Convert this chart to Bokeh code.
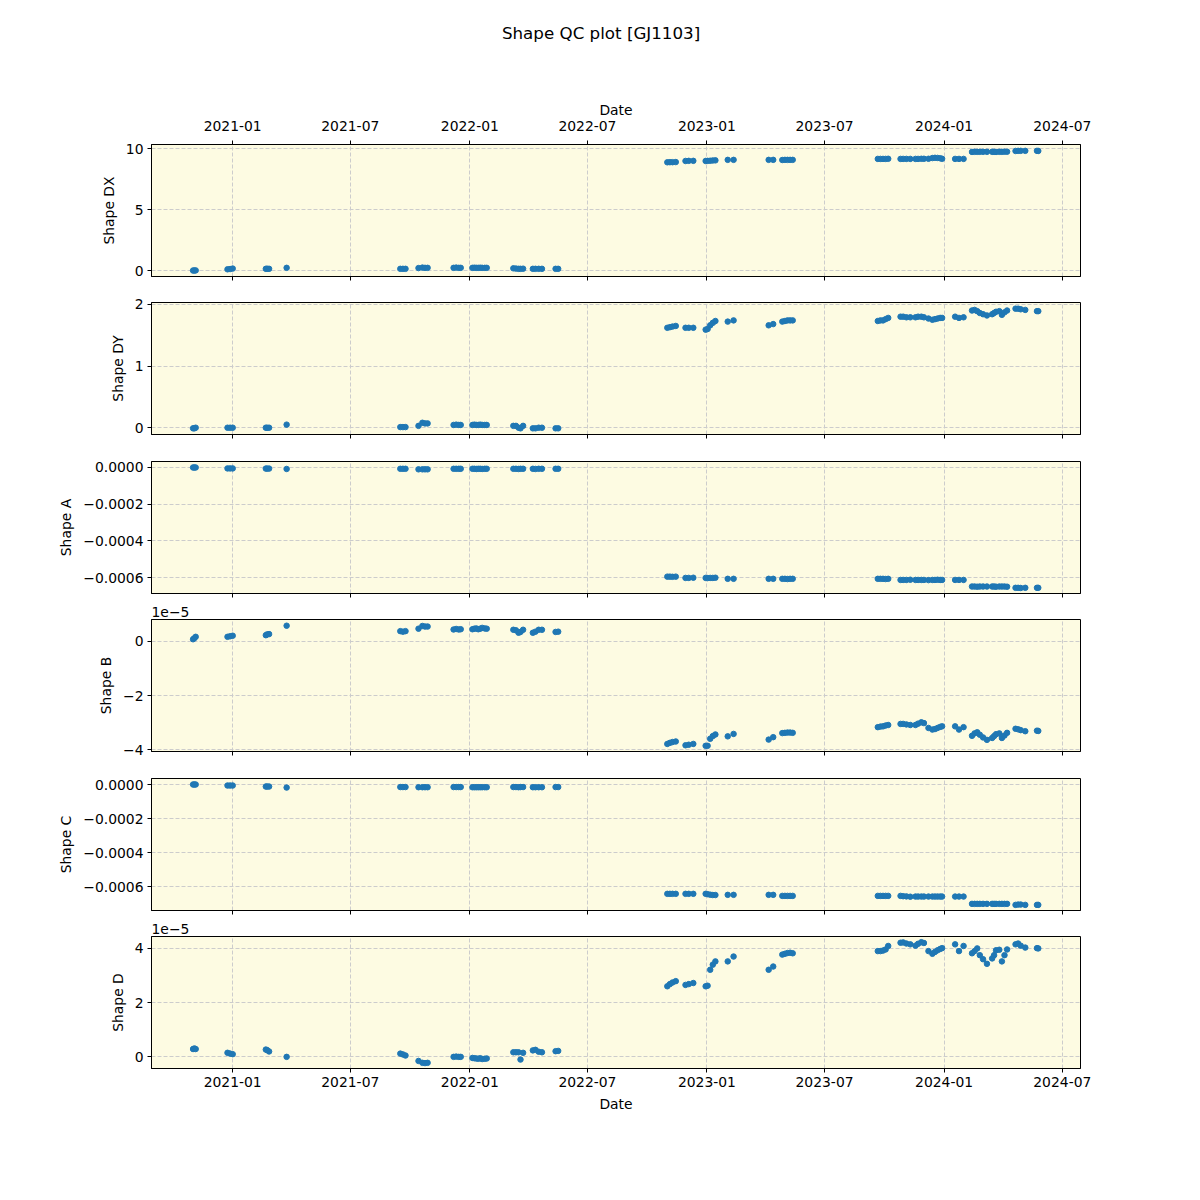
import pandas as pd
from bokeh.plotting import figure
from bokeh.layouts import column
from bokeh.models import (Range1d, FixedTicker, CustomJSTickFormatter, DatetimeAxis,
                          ColumnDataSource)
from bokeh.core.properties import value
from bokeh.embed import file_html
from bokeh.resources import INLINE

# ---------------- data ----------------
dates = [
    "2020-11-01", "2020-11-03", "2020-11-05",
    "2020-12-24", "2020-12-28", "2021-01-01",
    "2021-02-21", "2021-02-23", "2021-02-26",
    "2021-03-25",
    "2021-09-16", "2021-09-20", "2021-09-24",
    "2021-10-14", "2021-10-20", "2021-10-24", "2021-10-28",
    "2021-12-07", "2021-12-11", "2021-12-15", "2021-12-18",
    "2022-01-05", "2022-01-08", "2022-01-11", "2022-01-14", "2022-01-17", "2022-01-20", "2022-01-24", "2022-01-27",
    "2022-03-09", "2022-03-13", "2022-03-17", "2022-03-20", "2022-03-24",
    "2022-04-08", "2022-04-12", "2022-04-17", "2022-04-22",
    "2022-05-13", "2022-05-17",
    "2022-11-01", "2022-11-05", "2022-11-09", "2022-11-14",
    "2022-11-29", "2022-12-04", "2022-12-11",
    "2022-12-30", "2023-01-02", "2023-01-06", "2023-01-10", "2023-01-14",
    "2023-02-02", "2023-02-11",
    "2023-04-06", "2023-04-13",
    "2023-04-27", "2023-05-01", "2023-05-05", "2023-05-09", "2023-05-13",
    "2023-09-21", "2023-09-25", "2023-09-29", "2023-10-03", "2023-10-07",
    "2023-10-26", "2023-10-30", "2023-11-04", "2023-11-10",
    "2023-11-18", "2023-11-22", "2023-11-27", "2023-12-01", "2023-12-08",
    "2023-12-14", "2023-12-18", "2023-12-22", "2023-12-26", "2023-12-29",
    "2024-01-18", "2024-01-24", "2024-01-31",
    "2024-02-13", "2024-02-17", "2024-02-21", "2024-02-25", "2024-03-01", "2024-03-07",
    "2024-03-15", "2024-03-18", "2024-03-21", "2024-03-26", "2024-03-30", "2024-04-03", "2024-04-07",
    "2024-04-20", "2024-04-24", "2024-04-28", "2024-05-05",
    "2024-05-23", "2024-05-25",
]

shape_dx = [
    0.00, 0.00, 0.01,
    0.10, 0.12, 0.16,
    0.14, 0.15, 0.14,
    0.22,
    0.14, 0.14, 0.14,
    0.20, 0.24, 0.22, 0.22,
    0.22, 0.24, 0.22, 0.22,
    0.22, 0.23, 0.22, 0.22, 0.23, 0.22, 0.22, 0.22,
    0.18, 0.16, 0.14, 0.14, 0.15,
    0.14, 0.14, 0.14, 0.14,
    0.14, 0.14,
    8.87, 8.88, 8.88, 8.89,
    8.98, 8.99, 8.99,
    8.98, 8.99, 9.00, 9.02, 9.03,
    9.07, 9.07,
    9.07, 9.07,
    9.06, 9.07, 9.07, 9.07, 9.07,
    9.15, 9.15, 9.15, 9.15, 9.16,
    9.15, 9.15, 9.15, 9.15,
    9.15, 9.15, 9.16, 9.16, 9.16,
    9.22, 9.24, 9.23, 9.20, 9.16,
    9.15, 9.15, 9.15,
    9.72, 9.73, 9.73, 9.73, 9.73, 9.73,
    9.73, 9.73, 9.72, 9.73, 9.73, 9.74, 9.74,
    9.80, 9.81, 9.81, 9.81,
    9.81, 9.80,
]

shape_dy = [
    -0.01, -0.01, 0.00,
    0.00, 0.00, 0.00,
    0.00, 0.00, 0.00,
    0.05,
    0.01, 0.01, 0.01,
    0.03, 0.08, 0.07, 0.07,
    0.045, 0.05, 0.045, 0.045,
    0.045, 0.05, 0.045, 0.045, 0.05, 0.045, 0.045, 0.045,
    0.03, 0.03, 0.00, -0.01, 0.03,
    -0.01, -0.01, 0.00, 0.00,
    -0.01, -0.01,
    1.62, 1.63, 1.64, 1.65,
    1.62, 1.62, 1.62,
    1.59, 1.60, 1.66, 1.70, 1.73,
    1.72, 1.74,
    1.66, 1.68,
    1.72, 1.73, 1.74, 1.74, 1.74,
    1.73, 1.74, 1.74, 1.76, 1.78,
    1.80, 1.80, 1.79, 1.79,
    1.79, 1.80, 1.80, 1.79, 1.77,
    1.75, 1.76, 1.77, 1.78, 1.78,
    1.80, 1.78, 1.79,
    1.90, 1.91, 1.89, 1.86, 1.84, 1.82,
    1.84, 1.86, 1.88, 1.89, 1.83, 1.87, 1.90,
    1.93, 1.93, 1.92, 1.91,
    1.89, 1.89,
]

shape_a = [
    0.0, 0.0, 0.0,
    -0.000005, -0.000005, -0.000005,
    -0.000006, -0.000006, -0.000006,
    -0.000008,
    -0.000007, -0.000007, -0.000007,
    -0.000010, -0.000010, -0.000010, -0.000010,
    -0.000007, -0.000007, -0.000007, -0.000007,
    -0.000007, -0.000007, -0.000008, -0.000007, -0.000007, -0.000008, -0.000007, -0.000007,
    -0.000007, -0.000007, -0.000008, -0.000007, -0.000007,
    -0.000007, -0.000008, -0.000007, -0.000007,
    -0.000007, -0.000007,
    -0.000595, -0.000595, -0.000596, -0.000595,
    -0.000602, -0.000602, -0.000601,
    -0.000602, -0.000603, -0.000602, -0.000602, -0.000601,
    -0.000607, -0.000607,
    -0.000607, -0.000607,
    -0.000607, -0.000607, -0.000608, -0.000607, -0.000607,
    -0.000607, -0.000607, -0.000607, -0.000608, -0.000607,
    -0.000613, -0.000613, -0.000613, -0.000612,
    -0.000613, -0.000613, -0.000613, -0.000613, -0.000614,
    -0.000613, -0.000613, -0.000612, -0.000613, -0.000613,
    -0.000613, -0.000613, -0.000613,
    -0.000649, -0.000649, -0.000650, -0.000649, -0.000649, -0.000649,
    -0.000649, -0.000649, -0.000650, -0.000649, -0.000649, -0.000649, -0.000650,
    -0.000656, -0.000656, -0.000657, -0.000656,
    -0.000656, -0.000656,
]

# Shape B in units of 1e-5
shape_b_1e5 = [
    0.08, 0.12, 0.17,
    0.17, 0.19, 0.21,
    0.23, 0.26, 0.27,
    0.58,
    0.38, 0.36, 0.38,
    0.47, 0.57, 0.55, 0.55,
    0.44, 0.46, 0.44, 0.45,
    0.45, 0.47, 0.48, 0.45, 0.47, 0.50, 0.48, 0.47,
    0.43, 0.41, 0.32, 0.35, 0.43,
    0.32, 0.36, 0.43, 0.43,
    0.35, 0.36,
    -3.79, -3.75, -3.72, -3.70,
    -3.84, -3.82, -3.79,
    -3.86, -3.86, -3.60, -3.50, -3.44,
    -3.51, -3.42,
    -3.63, -3.54,
    -3.39, -3.38, -3.37, -3.37, -3.38,
    -3.17, -3.15, -3.14, -3.11, -3.09,
    -3.05, -3.05, -3.07, -3.09,
    -3.09, -3.04, -2.99, -3.02, -3.20,
    -3.26, -3.24, -3.20, -3.16, -3.14,
    -3.14, -3.26, -3.17,
    -3.49, -3.40, -3.36, -3.45, -3.55, -3.64,
    -3.57, -3.50, -3.43, -3.40, -3.57, -3.48, -3.38,
    -3.23, -3.25, -3.28, -3.32,
    -3.30, -3.31,
]

shape_c = [
    0.0, 0.0, 0.0,
    -0.000006, -0.000006, -0.000006,
    -0.000012, -0.000012, -0.000012,
    -0.000018,
    -0.000015, -0.000015, -0.000015,
    -0.000016, -0.000016, -0.000016, -0.000016,
    -0.000015, -0.000015, -0.000015, -0.000015,
    -0.000016, -0.000016, -0.000016, -0.000016, -0.000016, -0.000016, -0.000016, -0.000016,
    -0.000015, -0.000015, -0.000016, -0.000015, -0.000015,
    -0.000016, -0.000016, -0.000016, -0.000016,
    -0.000015, -0.000015,
    -0.000643, -0.000643, -0.000643, -0.000643,
    -0.000643, -0.000643, -0.000643,
    -0.000643, -0.000645, -0.000648, -0.000650, -0.000650,
    -0.000649, -0.000649,
    -0.000649, -0.000649,
    -0.000655, -0.000655, -0.000655, -0.000655, -0.000655,
    -0.000655, -0.000655, -0.000655, -0.000655, -0.000655,
    -0.000655, -0.000657, -0.000658, -0.000660,
    -0.000659, -0.000659, -0.000659, -0.000659, -0.000659,
    -0.000659, -0.000659, -0.000659, -0.000659, -0.000659,
    -0.000659, -0.000659, -0.000659,
    -0.000702, -0.000702, -0.000702, -0.000702, -0.000702, -0.000702,
    -0.000702, -0.000702, -0.000702, -0.000702, -0.000702, -0.000702, -0.000702,
    -0.000708, -0.000706, -0.000706, -0.000708,
    -0.000708, -0.000708,
]

# Shape D in units of 1e-5
shape_d_1e5 = [
    0.28, 0.30, 0.28,
    0.14, 0.11, 0.09,
    0.26, 0.24, 0.19,
    -0.01,
    0.11, 0.08, 0.04,
    -0.16, -0.23, -0.24, -0.23,
    -0.01, 0.00, -0.01, -0.01,
    -0.05, -0.06, -0.07, -0.08, -0.06, -0.09, -0.08, -0.07,
    0.16, 0.16, 0.16, -0.11, 0.14,
    0.23, 0.25, 0.18, 0.16,
    0.20, 0.21,
    2.60, 2.68, 2.74, 2.79,
    2.65, 2.68, 2.72,
    2.60, 2.62, 3.21, 3.40, 3.52,
    3.52, 3.70,
    3.21, 3.33,
    3.77, 3.80, 3.83, 3.84, 3.82,
    3.90, 3.90, 3.92, 3.96, 4.09,
    4.21, 4.22, 4.18, 4.15,
    4.10, 4.17, 4.23, 4.20, 3.90,
    3.80, 3.87, 3.93, 3.98, 4.01,
    4.15, 3.90, 4.09,
    3.82, 3.90, 4.00, 3.75, 3.60, 3.43,
    3.63, 3.75, 3.93, 3.95, 3.52, 3.75, 3.96,
    4.15, 4.18, 4.10, 4.03,
    4.01, 4.00,
]

date_ticks = ["2021-01-01", "2021-07-01", "2022-01-01", "2022-07-01",
              "2023-01-01", "2023-07-01", "2024-01-01", "2024-07-01"]
x_limits = ["2020-08-29", "2024-07-29"]

title_text = "Shape QC plot [GJ1103]"

panels = [
    # label, column, y-limits, ticks, decimals, offset text
    ("Shape DX", "dx", (-0.49, 10.33), [0, 5, 10], 0, None),
    ("Shape DY", "dy", (-0.11, 2.03), [0, 1, 2], 0, None),
    ("Shape A", "a", (-0.000687, 0.0000327), [0.0, -0.0002, -0.0004, -0.0006], 4, None),
    ("Shape B", "b", (-4.07, 0.81), [0, -2, -4], 0, "1e\u22125"),
    ("Shape C", "c", (-0.000741, 0.0000353), [0.0, -0.0002, -0.0004, -0.0006], 4, None),
    ("Shape D", "d", (-0.44, 4.44), [0, 2, 4], 0, "1e\u22125"),
]

# ---------------- build ----------------
src = ColumnDataSource(dict(
    date=pd.to_datetime(dates), dx=shape_dx, dy=shape_dy, a=shape_a,
    b=shape_b_1e5, c=shape_c, d=shape_d_1e5))

tick_ms = [(pd.Timestamp(t) - pd.Timestamp("1970-01-01")) // pd.Timedelta("1ms") for t in date_ticks]
x_range = Range1d(start=pd.Timestamp(x_limits[0]), end=pd.Timestamp(x_limits[1]))

FONT = "DejaVu Sans"
FS = "13.9px"
BLUE = "#1f77b4"
BG = "#fdfbe2"
GRID = "#cccccc"
TOTAL_W = 1184

date_fmt = CustomJSTickFormatter(code="""
const d = new Date(tick);
const m = d.getUTCMonth() + 1;
return d.getUTCFullYear() + "-" + (m < 10 ? "0" : "") + m;
""")
blank_fmt = CustomJSTickFormatter(code="return '';")


def num_fmt(dec):
    return CustomJSTickFormatter(code="return tick.toFixed(%d).replace('-', '\\u2212');" % dec)


def style_axis(ax, labels=True, label_standoff=4, title_standoff=6):
    ax.axis_line_color = "black"
    ax.major_tick_line_color = "black"
    ax.major_tick_out = 4
    ax.major_tick_in = 0
    ax.minor_tick_out = 0
    ax.minor_tick_in = 0
    ax.minor_tick_line_color = None
    ax.major_label_text_font = FONT
    ax.major_label_text_color = "black"
    ax.axis_label_text_font = FONT
    ax.axis_label_text_font_size = FS
    ax.axis_label_text_font_style = "normal"
    ax.axis_label_text_color = "black"
    if labels:
        ax.major_label_text_font_size = FS
        ax.major_label_standoff = label_standoff
        ax.axis_label_standoff = title_standoff
    else:
        ax.major_label_text_font_size = "0px"
        ax.major_label_standoff = 0


top_borders = [76, 20, 21, 20, 21, 20]
figs = []

title_fig = figure(width=TOTAL_W, height=68, x_range=Range1d(0, TOTAL_W), y_range=Range1d(0, 68),
                   x_axis_location=None, y_axis_location=None, min_border=0,
                   toolbar_location=None, output_backend="svg", outline_line_color=None)
title_fig.grid.visible = False
title_fig.text(x=[573], y=[36], text=[title_text], text_align="center", text_baseline="middle",
               text_font=value(FONT), text_font_size="16.7px", text_color="black")
figs.append(title_fig)

for i, (label, col, ylim, yticks, dec, offset) in enumerate(panels):
    first = i == 0
    last = i == len(panels) - 1
    p = figure(x_range=x_range, y_range=Range1d(*ylim), x_axis_type="datetime",
               x_axis_location="above" if first else "below",
               frame_width=929, frame_height=132,
               min_border_left=151, min_border_right=TOTAL_W - 151 - 929,
               min_border_top=top_borders[i], min_border_bottom=70 if last else 6,
               toolbar_location=None, output_backend="svg",
               background_fill_color=BG, border_fill_color="white")
    p.outline_line_color = "black"
    p.outline_line_width = 1
    p.outline_line_alpha = 1

    xa = p.xaxis[0]
    xa.ticker = FixedTicker(ticks=tick_ms)
    if first:
        xa.formatter = date_fmt
        xa.axis_label = "Date"
        style_axis(xa, labels=True, label_standoff=10, title_standoff=0)
    elif last:
        xa.formatter = date_fmt
        xa.axis_label = "Date"
        style_axis(xa, labels=True)
    else:
        xa.formatter = blank_fmt
        style_axis(xa, labels=False)
    if first:
        bx = DatetimeAxis(ticker=FixedTicker(ticks=tick_ms), formatter=blank_fmt)
        style_axis(bx, labels=False)
        p.add_layout(bx, "below")

    ya = p.yaxis[0]
    ya.ticker = FixedTicker(ticks=yticks)
    ya.formatter = num_fmt(dec)
    ya.axis_label = label
    style_axis(ya, labels=True)

    for g in (p.xgrid[0], p.ygrid[0]):
        g.grid_line_color = GRID
        g.grid_line_dash = "4 2"
        g.grid_line_width = 1

    if offset is not None:
        p.title.text = offset
        p.title.align = "left"
        p.title.text_font = FONT
        p.title.text_font_size = FS
        p.title.text_font_style = "normal"
        p.title.text_color = "black"
        p.title.standoff = 5
        p.title.offset = 0

    p.scatter(x="date", y=col, source=src, size=5.5, marker="circle",
              fill_color=BLUE, line_color=BLUE, line_width=1)
    figs.append(p)

layout = column(*figs, spacing=0)

with open("out.html", "w", encoding="utf-8") as f:
    f.write(file_html(layout, INLINE, title="Shape QC plot [GJ1103]"))
